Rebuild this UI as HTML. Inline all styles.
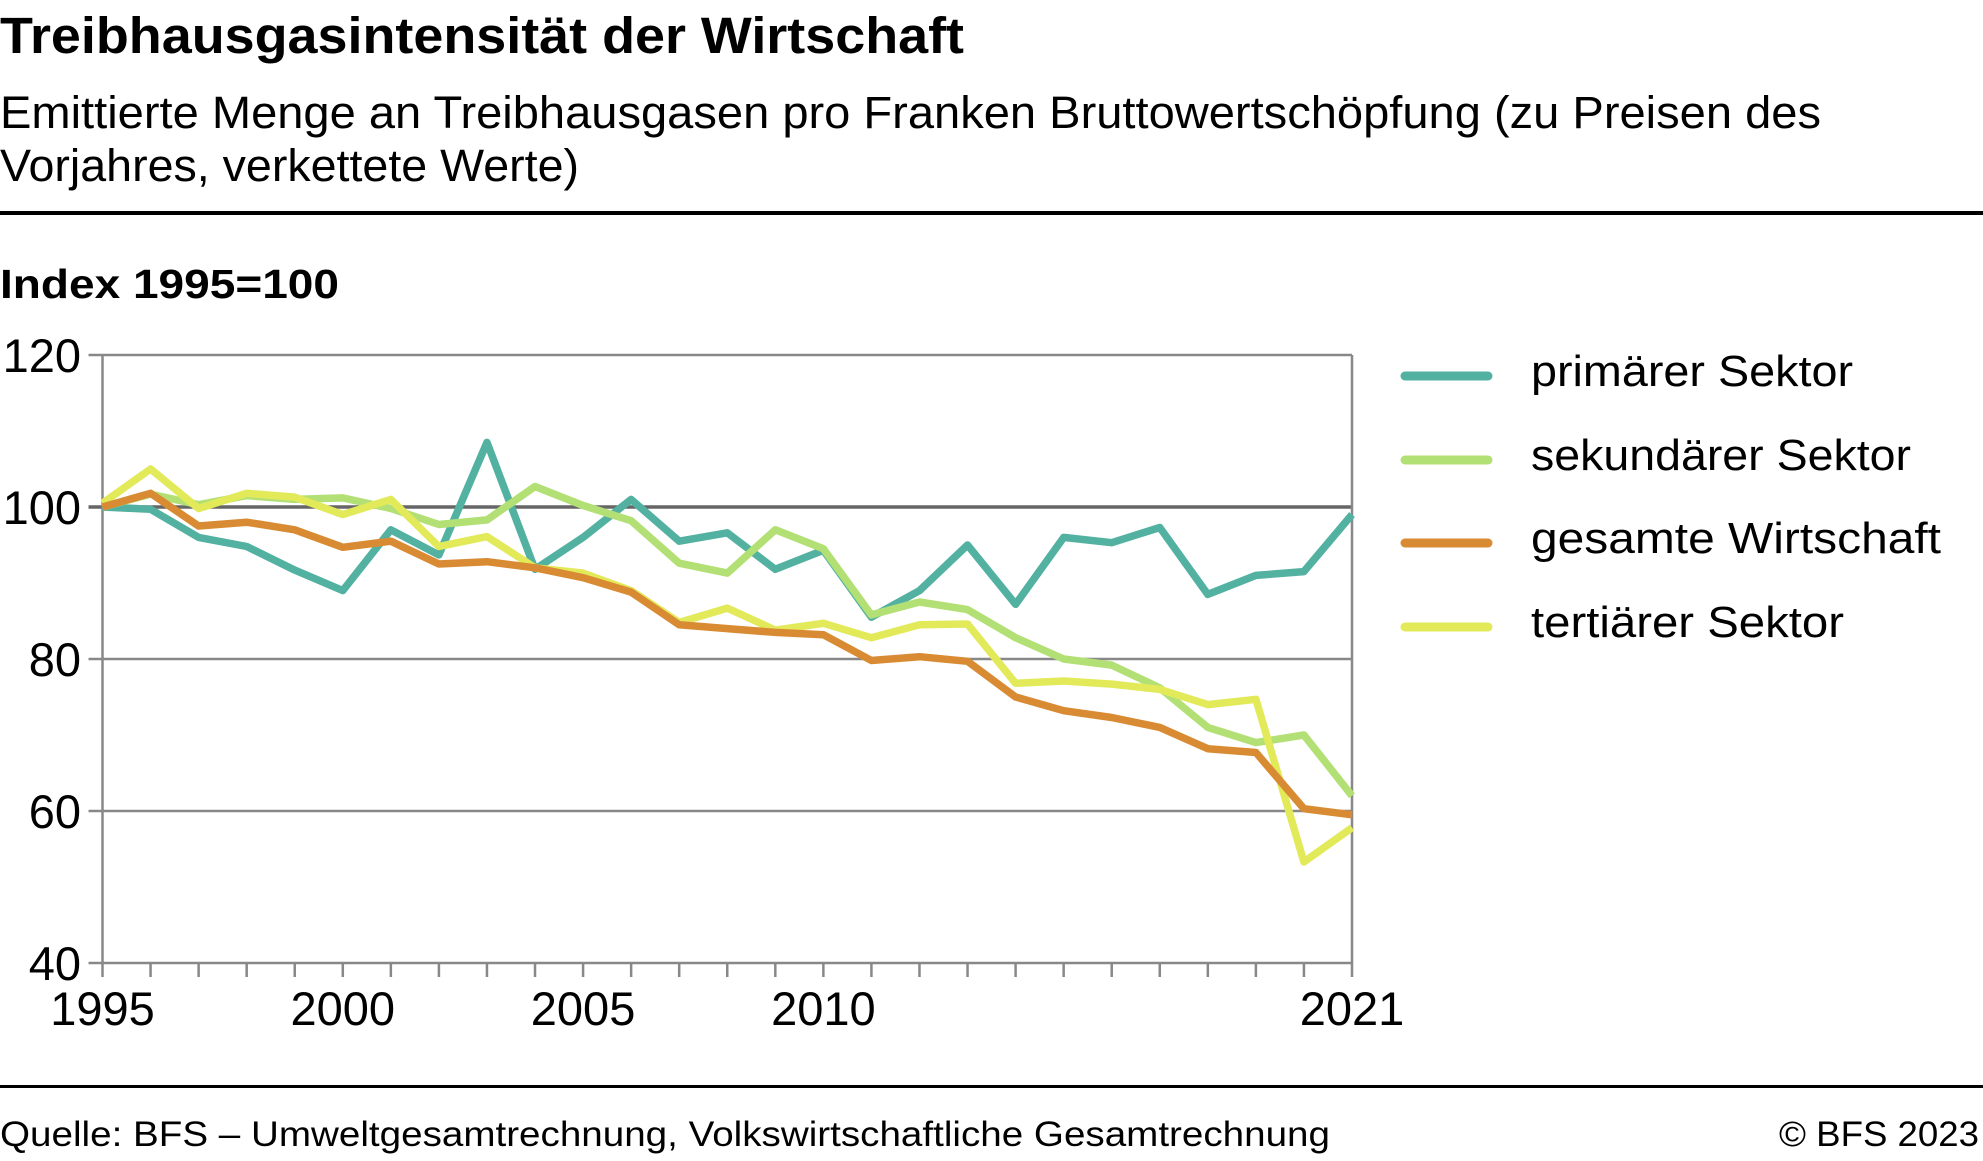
<!DOCTYPE html>
<html><head><meta charset="utf-8"><style>html,body{margin:0;padding:0;background:#fff}svg{display:block}</style></head>
<body>
<svg id="s" width="1983" height="1161" viewBox="0 0 1983 1161" xmlns="http://www.w3.org/2000/svg" font-family="Liberation Sans, sans-serif">
<text x="0" y="53" font-size="51" font-weight="bold" textLength="964" lengthAdjust="spacingAndGlyphs">Treibhausgasintensität der Wirtschaft</text>
<text x="0" y="128" font-size="45" textLength="1821" lengthAdjust="spacingAndGlyphs">Emittierte Menge an Treibhausgasen pro Franken Bruttowertschöpfung (zu Preisen des</text>
<text x="0" y="181" font-size="45" textLength="579" lengthAdjust="spacingAndGlyphs">Vorjahres, verkettete Werte)</text>
<rect x="0" y="211" width="1983" height="4" fill="#000"/>
<text x="0" y="298" font-size="41" font-weight="bold" textLength="339" lengthAdjust="spacingAndGlyphs">Index 1995=100</text>
<g id="grid" stroke="#888" stroke-width="2.5" fill="none"></g>
<g id="lines" fill="none" stroke-width="7.5" stroke-linejoin="round" stroke-linecap="butt"></g>
<g id="labels" font-size="47" fill="#000"></g>
<g font-size="44">
<line x1="1405" y1="376" x2="1488" y2="376" stroke="#52b1a0" stroke-width="9" stroke-linecap="round"/>
<line x1="1405" y1="460" x2="1488" y2="460" stroke="#b3e074" stroke-width="9" stroke-linecap="round"/>
<line x1="1405" y1="543" x2="1488" y2="543" stroke="#d98b33" stroke-width="9" stroke-linecap="round"/>
<line x1="1405" y1="627" x2="1488" y2="627" stroke="#e2ea5a" stroke-width="9" stroke-linecap="round"/>
<text x="1531" y="386" textLength="322" lengthAdjust="spacingAndGlyphs">primärer Sektor</text>
<text x="1531" y="470" textLength="380" lengthAdjust="spacingAndGlyphs">sekundärer Sektor</text>
<text x="1531" y="553" textLength="410" lengthAdjust="spacingAndGlyphs">gesamte Wirtschaft</text>
<text x="1531" y="637" textLength="313" lengthAdjust="spacingAndGlyphs">tertiärer Sektor</text>
</g>
<rect x="0" y="1085" width="1983" height="3" fill="#000"/>
<text x="0" y="1146" font-size="35" textLength="1330" lengthAdjust="spacingAndGlyphs">Quelle: BFS – Umweltgesamtrechnung, Volkswirtschaftliche Gesamtrechnung</text>
<text x="1979" y="1146" font-size="35" text-anchor="end" textLength="200" lengthAdjust="spacingAndGlyphs">© BFS 2023</text>
</svg>
<script>
var NS="http://www.w3.org/2000/svg";
function el(p,t,a,txt){var e=document.createElementNS(NS,t);for(var k in a)e.setAttribute(k,a[k]);if(txt)e.textContent=txt;document.getElementById(p).appendChild(e);return e;}
var L=102.5,R=1352,x=function(i){return L+i*(R-L)/26;},y=function(v){return 963-(v-40)*7.6;};
[120,100,80,60,40].forEach(function(v){
 el("grid","line",{x1:L-14,y1:y(v),x2:R,y2:y(v),stroke:v==100?"#666":"#888","stroke-width":v==100?3.5:2.5});
 el("labels","text",{x:81,y:y(v)+17,"text-anchor":"end"},String(v));
});
el("grid","line",{x1:L,y1:y(120),x2:L,y2:y(40)+14});
el("grid","line",{x1:R,y1:y(120),x2:R,y2:y(40)+14});
for(var i=1;i<26;i++)el("grid","line",{x1:x(i),y1:y(40),x2:x(i),y2:y(40)+14});
[[0,"1995"],[5,"2000"],[10,"2005"],[15,"2010"],[26,"2021"]].forEach(function(p){el("labels","text",{x:x(p[0]),y:1025,"text-anchor":"middle"},p[1]);});
var D=[
["#52b1a0",[100,99.7,96,94.8,91.7,89,97,93.7,108.5,91.8,96,101,95.5,96.6,91.8,94.3,85.5,89,95,87.2,96,95.3,97.3,88.5,91,91.5,99]],
["#b3e074",[100,101.7,100.3,101.5,101,101.2,99.8,97.7,98.3,102.7,100.2,98.2,92.6,91.3,97,94.5,85.8,87.5,86.5,82.8,80,79.2,76.2,71,69,70,62]],
["#d98b33",[100,101.8,97.5,98,97,94.7,95.5,92.5,92.8,92,90.7,88.8,84.5,84,83.5,83.2,79.8,80.3,79.7,75,73.2,72.3,71,68.2,67.7,60.3,59.5]],
["#e2ea5a",[100.5,105,99.8,101.8,101.3,99,101,94.8,96.1,92,91.3,89,84.8,86.7,83.8,84.7,82.8,84.5,84.6,76.8,77.1,76.7,76,74,74.7,53.3,57.8]]];
var order=[0,1,3,2];
order.forEach(function(k){var d=D[k];el("lines","polyline",{stroke:d[0],points:d[1].map(function(v,i){return x(i).toFixed(1)+","+y(v).toFixed(1);}).join(" ")});});
</script>
</body></html>
